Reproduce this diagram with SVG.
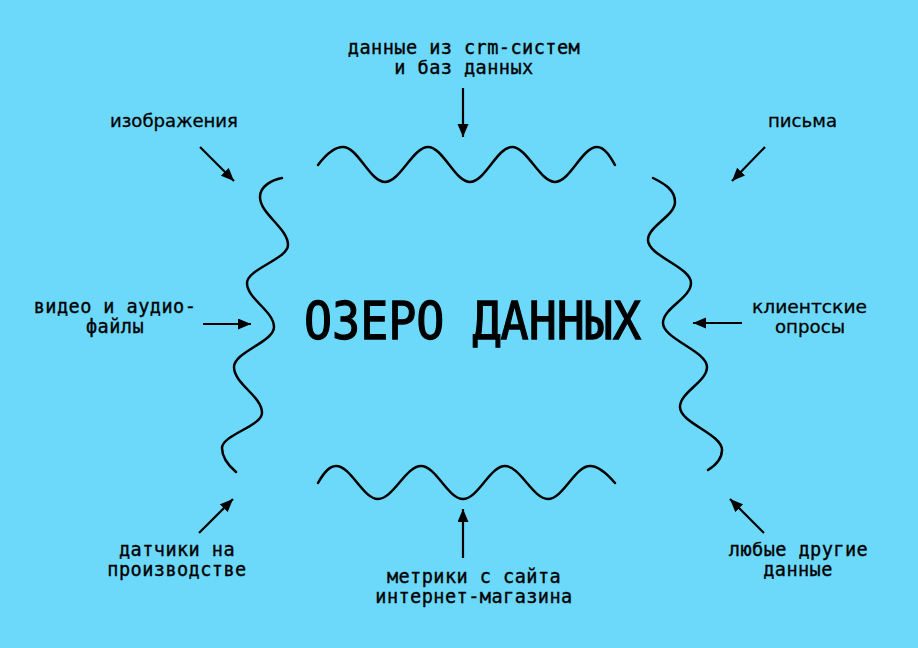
<svg xmlns="http://www.w3.org/2000/svg" width="918" height="648" viewBox="0 0 918 648">
  <style>
    .wave { fill: none; stroke: #000; stroke-width: 2.5; stroke-linecap: round; }
    .arrow { stroke: #000; stroke-width: 2.2; marker-end: url(#head); }
    .mono { font-family: "DejaVu Sans Mono", "Liberation Mono", monospace; font-size: 18.6px; letter-spacing: 0.42px; fill: #000; stroke: #000; stroke-width: 0.35; text-anchor: middle; }
    .sans { font-family: "DejaVu Sans", "Noto Sans", sans-serif; font-size: 18.5px; fill: #000; stroke: #000; stroke-width: 0.3; text-anchor: middle; }
    .title { font-family: "DejaVu Sans Mono", "Liberation Mono", monospace; font-size: 52px; fill: #000; stroke: #000; stroke-width: 1.3; text-anchor: middle; }
  </style>
  <defs>
    <marker id="head" markerUnits="userSpaceOnUse" markerWidth="14" markerHeight="12" refX="13" refY="5.5" orient="auto">
      <path d="M0,0 L13,5.5 L0,11 z" fill="#000"/>
    </marker>
  </defs>
  <rect width="918" height="648" fill="#6cd9fb"/>

  <g id="lake">
    <path class="wave" d="M318,165 C324,157 333,147 343,147 C358,147 370,182 385,182 C400,182 413,147 428,147 C443,147 455,182 470,182 C485,182 497,147 512,147 C527,147 540,182 555,182 C570,182 582,147 597,147 C605,147 611,158 615,165"/>
    <path class="wave" d="M318,483 C322,476 328,466 336,466 C351,466 363,499 378,499 C393,499 406,466 421,466 C436,466 448,499 463,499 C478,499 490,466 505,466 C520,466 533,499 548,499 C563,499 575,466 590,466 C600,466 609,476 615,483"/>
    <path class="wave" d="M282,178 C272,180 260,186 260,197 C260,214 288,228 288,245 C288,259 247,269 247,283 C247,299 274,311 274,327 C274,342 234,352 234,367 C234,384 262,396 262,413 C262,426 222,435 222,448 C222,458 229,466 236,472"/>
    <path class="wave" d="M653,178 C665,184 675,190 675,202 C675,216 648,226 648,240 C648,256 691,267 691,283 C691,298 663,308 663,323 C663,339 707,351 707,367 C707,382 680,392 680,407 C680,423 722,434 722,450 C722,459 716,465 708,470"/>
    <text class="title" x="472.5" y="339" textLength="337" lengthAdjust="spacingAndGlyphs">ОЗЕРО ДАННЫХ</text>
  </g>

  <g id="connectors">
    <line class="arrow" x1="463" y1="88" x2="463" y2="137"/>
    <line class="arrow" x1="463" y1="558" x2="463" y2="509"/>
    <line class="arrow" x1="200" y1="147" x2="234" y2="181"/>
    <line class="arrow" x1="765" y1="147" x2="732" y2="181"/>
    <line class="arrow" x1="203" y1="324" x2="251" y2="324"/>
    <line class="arrow" x1="742" y1="323" x2="693" y2="323"/>
    <line class="arrow" x1="199" y1="533" x2="233" y2="499"/>
    <line class="arrow" x1="764" y1="533" x2="730" y2="499"/>
  </g>

  <g id="crm">
    <text class="mono" x="464" y="54">данные из crm-систем</text>
    <text class="mono" x="464" y="74">и баз данных</text>
  </g>
  <g id="images">
    <text class="sans" x="174" y="127" textLength="128" lengthAdjust="spacingAndGlyphs">изображения</text>
  </g>
  <g id="letters">
    <text class="sans" x="802.5" y="127" textLength="69" lengthAdjust="spacingAndGlyphs">письма</text>
  </g>
  <g id="video">
    <text class="mono" x="115" y="313">видео и аудио-</text>
    <text class="mono" x="115" y="333">файлы</text>
  </g>
  <g id="surveys">
    <text class="sans" x="809.5" y="313" textLength="115" lengthAdjust="spacingAndGlyphs">клиентские</text>
    <text class="sans" x="810" y="333" textLength="70" lengthAdjust="spacingAndGlyphs">опросы</text>
  </g>
  <g id="sensors">
    <text class="mono" x="177" y="556">датчики на</text>
    <text class="mono" x="177" y="576">производстве</text>
  </g>
  <g id="metrics">
    <text class="mono" x="474" y="583">метрики с сайта</text>
    <text class="mono" x="474" y="603">интернет-магазина</text>
  </g>
  <g id="other">
    <text class="mono" x="798.5" y="556">любые другие</text>
    <text class="mono" x="798" y="576">данные</text>
  </g>
</svg>
